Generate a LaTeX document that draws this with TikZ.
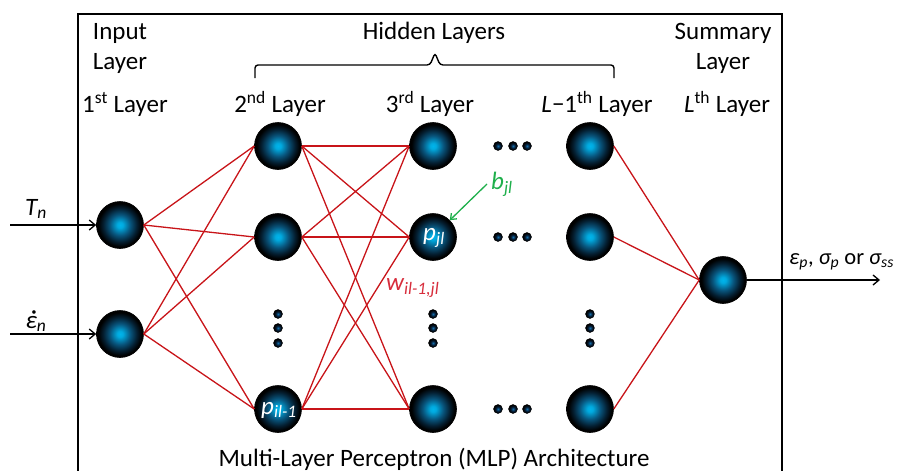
\documentclass[tikz,border=0pt]{standalone}
\usepackage{fontspec}
\setmainfont{Carlito}
\usetikzlibrary{arrows.meta}

\definecolor{ballcore}{RGB}{0,180,235}
\definecolor{ballmid}{RGB}{8,85,125}
\definecolor{balldark}{RGB}{4,30,48}
\definecolor{dotcore}{RGB}{20,110,170}
\definecolor{dotdark}{RGB}{5,30,55}
\definecolor{linkred}{RGB}{200,20,25}
\definecolor{weightred}{RGB}{215,45,60}
\definecolor{biasgreen}{RGB}{30,175,75}

\pgfdeclareradialshading{neuronball}{\pgfpoint{0bp}{0bp}}{%
  color(0bp)=(ballcore); color(3bp)=(ballcore!90!ballmid);
  color(11bp)=(ballmid); color(18bp)=(balldark);
  color(23bp)=(black); color(25bp)=(black); color(50bp)=(black)}
\pgfdeclareradialshading{dotball}{\pgfpoint{0bp}{0bp}}{%
  color(0bp)=(dotcore); color(12bp)=(dotdark);
  color(22bp)=(black); color(25bp)=(black); color(50bp)=(black)}

\tikzset{
  neuron/.style={circle, minimum size=47pt, inner sep=0pt, shading=neuronball,
    draw=black, line width=0.6pt},
  gapdot/.style={circle, minimum size=9pt, inner sep=0pt, shading=dotball,
    draw=black, line width=0.4pt},
  link/.style={draw=linkred, line width=1.3pt},
  flow/.style={draw=black, line width=1.3pt, -{Straight Barb[length=6pt,width=10pt]}},
  head/.style={font=\fontsize{25}{28}\selectfont, inner sep=0pt},
  sym/.style={font=\fontsize{25}{28}\selectfont\itshape, inner sep=0pt},
}
% epsilon with a dot above it (time derivative)
\newcommand{\epsdot}{\makebox[0pt][l]{\kern0.2em\raisebox{0.36em}{·}}ε}

\begin{document}
\begin{tikzpicture}[x=1pt, y=-1pt]
\useasboundingbox (0,0) rectangle (903,471);
\clip (0,0) rectangle (903,471);

% outer frame (its lower edge lies below the page)
\draw[line width=2pt] (78,14) rectangle (782,500);

% headings
\node[head] (tin1) at (120,33) {Input};
\node[head] (tin2) at (120,63) {Layer};
\node[head] (thid) at (434,33) {Hidden Layers};
\node[head] (tsum1) at (723,33) {Summary};
\node[head] (tsum2) at (723,63) {Layer};
\node[head] (t1) at (125,104) {1\textsuperscript{st} Layer};
\node[head] (t2) at (280,104) {2\textsuperscript{nd} Layer};
\node[head] (t3) at (430,104) {3\textsuperscript{rd} Layer};
\node[head] (t4) at (597,104) {\textit{L}−1\textsuperscript{th} Layer};
\node[head] (t5) at (727,104) {\textit{L}\textsuperscript{th} Layer};
\node[head] (tmlp) at (434,459) {Multi-Layer Perceptron (MLP) Architecture};

% brace over the hidden layers
\draw[line width=1.4pt, rounded corners=3pt]
  (255,78) -- (255,65) -- (430,65) -- (435,53) -- (440,65) -- (614,65) -- (614,78);

% neurons
\node[neuron] (a1) at (120,225) {};
\node[neuron] (a2) at (120,334) {};
\node[neuron] (b1) at (278,146) {};
\node[neuron] (b2) at (278,237) {};
\node[neuron] (b3) at (278,409) {};
\node[neuron] (c1) at (433,146) {};
\node[neuron] (c2) at (433,237) {};
\node[neuron] (c3) at (433,409) {};
\node[neuron] (d1) at (590,146) {};
\node[neuron] (d2) at (590,237) {};
\node[neuron] (d3) at (590,409) {};
\node[neuron] (o) at (723,280) {};

% connections
\foreach \s in {a1,a2}
  \foreach \t in {b1,b2,b3}
    \draw[link] (\s.east) -- (\t.west);
\foreach \s in {b1,b2,b3}
  \foreach \t in {c1,c2,c3}
    \draw[link] (\s.east) -- (\t.west);
\foreach \s in {d1,d2,d3}
  \draw[link] (\s.east) -- (o.west);

% ellipsis dots
\foreach \x/\n in {278/b,433/c,590/d}
  \foreach \y/\k in {314/1,328/2,343/3}
    \node[gapdot] (v\n\k) at (\x,\y) {};
\foreach \y/\n in {146/r,237/s,409/t}
  \foreach \x/\k in {498/1,513/2,527/3}
    \node[gapdot] (h\n\k) at (\x,\y) {};

% inputs and output
\coordinate (inT) at (10,225);
\coordinate (inE) at (10,334);
\coordinate (outY) at (880,280);
\draw[flow] (inT) -- (a1.west);
\draw[flow] (inE) -- (a2.west);
\draw[flow] (o.east) -- (outY);
\node[sym] (lT) at (36,209) {T\textsubscript{n}};
\node[sym] (lE) at (36,321) {\epsdot\textsubscript{n}};
\node[sym, font=\fontsize{22.5}{26}\selectfont\itshape, anchor=west] (lY) at (789,262)
  {ε\textsubscript{p}\upshape, \itshape σ\textsubscript{p} \upshape or \itshape σ\textsubscript{ss}};

% labels in and around the network
\node[sym, text=white] (lp1) at (434,238) {p\textsubscript{jl}};
\node[sym, text=white] (lp2) at (279,410) {p\textsubscript{il-1}};
\node[sym, text=weightred, anchor=west] (lw) at (386,288) {w\textsubscript{il-1,jl}};
\node[sym, text=biasgreen, anchor=west] (lb) at (491,184) {b\textsubscript{jl}};
\coordinate (bt) at (487,184);
\draw[draw=biasgreen, line width=1.3pt, -{Straight Barb[length=5pt,width=8pt]}] (bt) -- (c2.north east);
\end{tikzpicture}
\end{document}
